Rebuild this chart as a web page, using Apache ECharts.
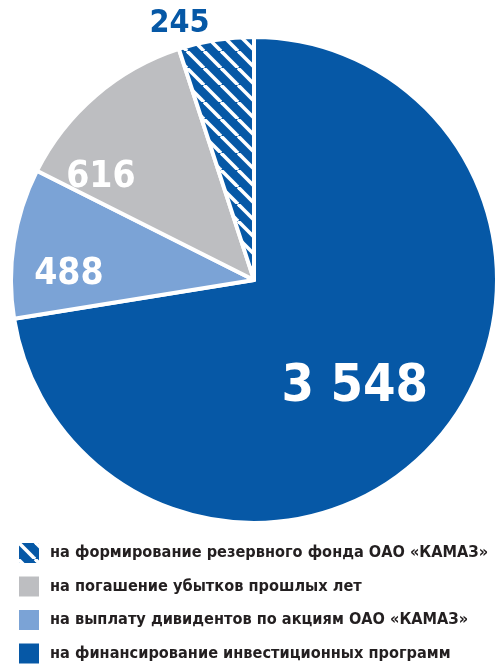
<!DOCTYPE html>
<html>
<head>
<meta charset="utf-8">
<script src="https://cdn.jsdelivr.net/npm/echarts@6/dist/echarts.min.js"></script>
<style>
  html, body { margin: 0; padding: 0; background: #fff; }
  #chart { width: 497px; height: 664px; }
</style>
</head>
<body>
<div id="chart"></div>
<script>
// Распределение чистой прибыли, млн руб.
const categories = [
  'на финансирование инвестиционных программ',
  'на выплату дивидентов по акциям ОАО «КАМАЗ»',
  'на погашение убытков прошлых лет',
  'на формирование резервного фонда ОАО «КАМАЗ»'
];
const values = [3548, 488, 616, 245];
const valueLabels = ['3 548', '488', '616', '245'];
const legendOrder = [categories[3], categories[2], categories[1], categories[0]];

const FONT = '"DejaVu Sans", "Roboto", sans-serif';
const WEIGHT = 'bold condensed';
const DARK = '#0658a6';
const LIGHT = '#7ba3d6';
const GREY = '#bdbec1';

// diagonal white stripes on blue for the reserve-fund slice
function hatch() {
  const n = 17;
  const c = document.createElement('canvas');
  c.width = n; c.height = n;
  const g = c.getContext('2d');
  g.fillStyle = DARK;
  g.fillRect(0, 0, n, n);
  g.strokeStyle = '#ffffff';
  g.lineWidth = 3.6;
  for (let i = -1; i <= 1; i++) {
    g.beginPath();
    g.moveTo(i * n, 0);
    g.lineTo(i * n + n, n);
    g.stroke();
  }
  return { image: c, repeat: 'repeat' };
}

const colors = [DARK, LIGHT, GREY, hatch()];
const labelStyles = [
  { fontSize: 52, color: '#fff', position: 'inside', offset: [6, 27] },
  { fontSize: 37, color: '#fff', position: 'inside', offset: [-62, 13] },
  { fontSize: 37, color: '#fff', position: 'inside', offset: [-72, -8] },
  { fontSize: 32, color: DARK, position: 'outside', distance: 4, offset: [31, -1] }
];

const chart = echarts.init(document.getElementById('chart'), null, { renderer: 'canvas' });
chart.setOption({
  animation: false,
  // one entry per row: the row width only fits a single item
  legend: {
    orient: 'horizontal',
    left: 17,
    top: 541,
    width: 475,
    padding: 0,
    itemWidth: 22,
    itemHeight: 22,
    itemGap: 9.5,
    icon: 'rect',
    data: legendOrder,
    textStyle: { fontFamily: FONT, fontWeight: WEIGHT, fontSize: 16.2, color: '#231f20', padding: [0, 0, 0, 5] }
  },
  series: [{
    type: 'pie',
    center: [254, 280],
    radius: [0, 243],
    startAngle: 90,
    clockwise: true,
    avoidLabelOverlap: false,
    labelLine: { show: false },
    itemStyle: { borderColor: '#fff', borderWidth: 4 },
    emphasis: { disabled: true },
    data: values.map((v, i) => ({
      name: categories[i],
      value: v,
      itemStyle: { color: colors[i] },
      label: Object.assign({
        show: true,
        formatter: valueLabels[i],
        fontFamily: FONT,
        fontWeight: WEIGHT
      }, labelStyles[i])
    }))
  }]
});
</script>
</body>
</html>
